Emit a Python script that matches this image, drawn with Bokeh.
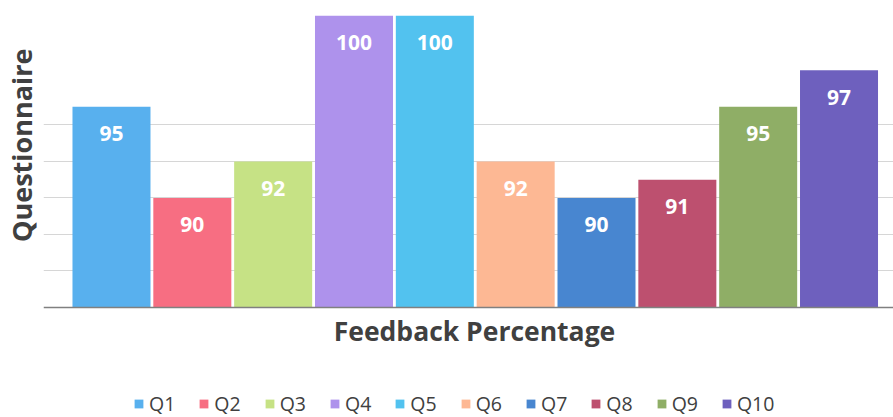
from bokeh.plotting import figure
from bokeh.models import (ColumnDataSource, Range1d, FixedTicker, Legend, LegendItem,
                          Title, Span, Label)
from bokeh.core.properties import value
from bokeh.embed import file_html
from bokeh.resources import INLINE

categories = ["Q1", "Q2", "Q3", "Q4", "Q5", "Q6", "Q7", "Q8", "Q9", "Q10"]
feedback = [95, 90, 92, 100, 100, 92, 90, 91, 95, 97]
palette = ["#58b0ee", "#f76e82", "#c6e285", "#ae92ec", "#52c2ef",
           "#fdb894", "#4886d0", "#bd506f", "#8fae66", "#6e60be"]
grid_ticks = [86, 88, 90, 92, 94]
baseline = 84
x_title = "Feedback Percentage"
y_title = "Questionnaire"

positions = list(range(len(categories)))
src = ColumnDataSource(dict(x=positions, top=feedback, cat=categories,
                            color=palette, label=[str(v) for v in feedback]))

p = figure(width=893, height=417, output_backend="svg", toolbar_location=None,
           x_range=Range1d(-0.841, 9.674), y_range=Range1d(77.97, 100),
           min_border_left=43, min_border_right=0, min_border_top=15,
           min_border_bottom=0)
p.outline_line_color = None
p.background_fill_color = "white"
p.xaxis.visible = False
p.yaxis.visible = False
p.xgrid.visible = False
p.ygrid.ticker = FixedTicker(ticks=grid_ticks)
p.ygrid.grid_line_color = "#d6d6d6"
p.ygrid.grid_line_width = 1

r = p.vbar(x="x", top="top", bottom=baseline, width=0.965, fill_color="color",
           line_color=None, source=src)
p.text(x="x", y="top", text="label", source=src, text_color="white",
       text_font=value("Open Sans"), text_font_style="bold",
       text_font_size="21px", text_align="center", text_baseline="middle",
       y_offset=27)

p.add_layout(Span(location=baseline, dimension="width", line_color="#808080",
                  line_width=1.5))

p.add_layout(Label(x=431, y=87, x_units="screen", y_units="screen", text=x_title,
                   text_font="Open Sans", text_font_style="bold",
                   text_font_size="26.5px", text_color="#404040",
                   text_align="center", text_baseline="alphabetic"))

t = Title(text=y_title, text_font="Open Sans", text_font_size="27px",
          text_font_style="bold", text_color="#404040", align="right",
          vertical_align="top", offset=33, standoff=4)
p.add_layout(t, "left")

items = [LegendItem(label=c, renderers=[r], index=i) for i, c in enumerate(categories)]
legend = Legend(items=items, orientation="horizontal", location=(90, 0),
                border_line_color=None, background_fill_alpha=0, padding=0,
                margin=0, spacing=23, glyph_width=11, glyph_height=11,
                label_standoff=5, label_text_font="Open Sans",
                label_text_font_size="19.5px", label_text_color="#404040")
p.add_layout(legend, "center")

open("out.html", "w").write(file_html(p, INLINE))
